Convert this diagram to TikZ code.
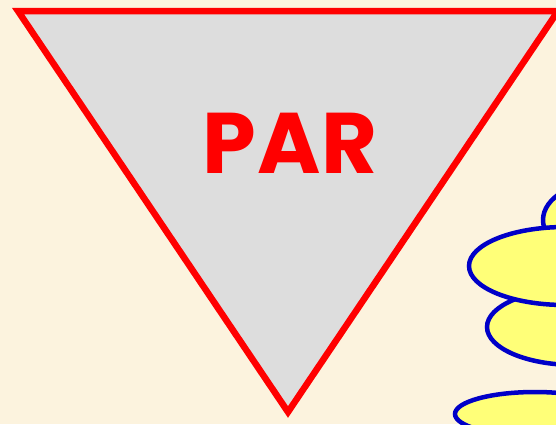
\documentclass[tikz,border=0pt]{standalone}
\usepackage{fontspec}
\newfontfamily\parfont{Poppins}
\definecolor{paper}{RGB}{252,243,222}
\definecolor{slab}{RGB}{221,221,221}
\definecolor{stonefill}{RGB}{255,255,120}
\definecolor{stoneline}{RGB}{0,0,200}

\begin{document}
\begin{tikzpicture}[x=1pt, y=-1pt,
  tri/.style={draw=red, fill=slab, line width=6.5pt, line join=miter},
  stone/.style={draw=stoneline, fill=stonefill, line width=4.5pt},
  title/.style={text=red, font=\parfont\bfseries\fontsize{86}{86}\selectfont}
]
\useasboundingbox (0,0) rectangle (556,424);
\clip (0,0) rectangle (556,424);
\fill[paper] (0,0) rectangle (556,424);

% funnel
\draw[tri] (18,11) -- (558,11) -- (288,412) -- cycle;
\node[title] (par) at (290,143) {P\kern1pt A\kern1pt R};

% pile of stones on the right
\draw[stone] (610,220) ellipse [x radius=67, y radius=40];
\draw[stone] (575,327) ellipse [x radius=88, y radius=38];
\draw[stone] (565,266) ellipse [x radius=96, y radius=39];
\draw[stone] (535,414) ellipse [x radius=80, y radius=22];
\end{tikzpicture}
\end{document}
